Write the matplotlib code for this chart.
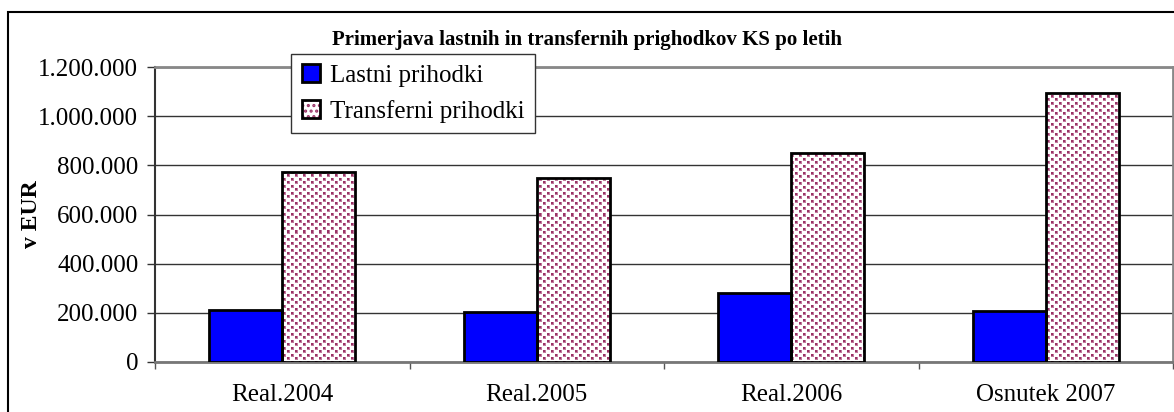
import matplotlib
matplotlib.use('Agg')
import matplotlib.pyplot as plt
import numpy as np
from matplotlib.patches import Rectangle, Patch
from matplotlib.ticker import FuncFormatter

plt.rcParams['font.family'] = ['Liberation Serif', 'DejaVu Serif']
plt.rcParams['hatch.linewidth'] = 1.5

kategorije = ['Real.2004', 'Real.2005', 'Real.2006', 'Osnutek 2007']
lastni = [211000, 204000, 282000, 209000]
transferni = [774000, 750000, 849000, 1093000]
serije = ['Lastni prihodki', 'Transferni prihodki']

W, H = 1174, 412
fig = plt.figure(figsize=(W / 100, H / 100), dpi=100)
ax_l, ax_r, ax_t, ax_b = 155, 1173, 67, 362
ax = fig.add_axes([ax_l / W, (H - ax_b) / H, (ax_r - ax_l) / W, (ax_b - ax_t) / H])

# outer chart border (cut at right/bottom like the source)
fig.patches.append(Rectangle((8 / W, -0.2), 1.2, (H - 12) / H + 0.2, transform=fig.transFigure,
                             fill=False, edgecolor='black', linewidth=1.5, clip_on=False))

ind = np.arange(len(kategorije))
w = 0.286
maroon = '#993366'

ax.set_xlim(-0.5, len(kategorije) - 0.5)
ax.set_ylim(0, 1200000)

b1 = ax.bar(ind - w / 2, lastni, w, color='#0000FF', edgecolor='black', linewidth=2, zorder=4)
b2 = ax.bar(ind + w / 2, transferni, w, color='white', edgecolor='black', linewidth=2, zorder=4)

# dotted fill like the Excel pattern: tile of maroon squares, clipped to each bar
tile = np.ones((7, 8, 3))
for r, c in [(0, 0), (3, 4)]:
    tile[r:r + 3, c:c + 3] = (0.76, 0.48, 0.62)
    tile[r:r + 2, c:c + 2] = (0.6, 0.2, 0.4)
ny, nx = ax_b - ax_t, ax_r - ax_l
pattern = np.tile(tile, (ny // 7 + 1, nx // 8 + 1, 1))[:ny, :nx]
for bar in b2:
    bar.set_facecolor('none')
    im = ax.imshow(pattern, extent=[*ax.get_xlim(), *ax.get_ylim()], aspect='auto',
                   interpolation='nearest', zorder=3)
    im.set_clip_path(bar)
ax.set_xlim(-0.5, len(kategorije) - 0.5)
ax.set_ylim(0, 1200000)

ax.set_yticks(np.arange(0, 1200001, 200000))
ax.yaxis.set_major_formatter(FuncFormatter(lambda v, p: f'{int(v):,}'.replace(',', '.')))
ax.yaxis.grid(True, color='#333333', linewidth=1)
ax.set_axisbelow(True)

ax.set_xticks(ind)
ax.set_xticklabels(kategorije)
ax.set_xticks(np.arange(-0.5, len(kategorije)), minor=True)
ax.tick_params(axis='x', which='major', length=0, pad=16, labelsize=18)
ax.tick_params(axis='x', which='minor', length=5, width=1, color='#555555')
ax.tick_params(axis='y', length=6, width=1, pad=6, labelsize=18, color='#333333')

ax.spines['top'].set_color('#888888')
ax.spines['top'].set_linewidth(2)
ax.spines['right'].set_color('#888888')
ax.spines['right'].set_linewidth(2)
ax.spines['bottom'].set_color('#777777')
ax.spines['bottom'].set_linewidth(2)
ax.spines['left'].set_color('#333333')
ax.spines['left'].set_linewidth(1.5)

ax.set_ylabel('v EUR', fontsize=17, fontweight='bold')
ax.yaxis.set_label_coords(-113 / (ax_r - ax_l), 0.5)

fig.text(587 / W, 1 - 40 / H, 'Primerjava lastnih in transfernih prighodkov KS po letih',
         ha='center', va='center', fontsize=15, fontweight='bold')

h_dots = Patch(facecolor='white', edgecolor=maroon, hatch='...', linewidth=0)
h_edge = Patch(facecolor='none', edgecolor='black', linewidth=2)
leg = fig.legend([b1[0], (h_dots, h_edge)], serije, loc='upper left',
                 bbox_to_anchor=(291 / W, 1 - 54 / H), bbox_transform=fig.transFigure,
                 borderaxespad=0, fancybox=False, framealpha=1, edgecolor='#333333',
                 fontsize=18, handlelength=0.72, handleheight=0.72, handletextpad=0.4,
                 labelspacing=0.5, borderpad=0.42)
leg.get_frame().set_linewidth(1)

fig.savefig('out.png', dpi=100)
